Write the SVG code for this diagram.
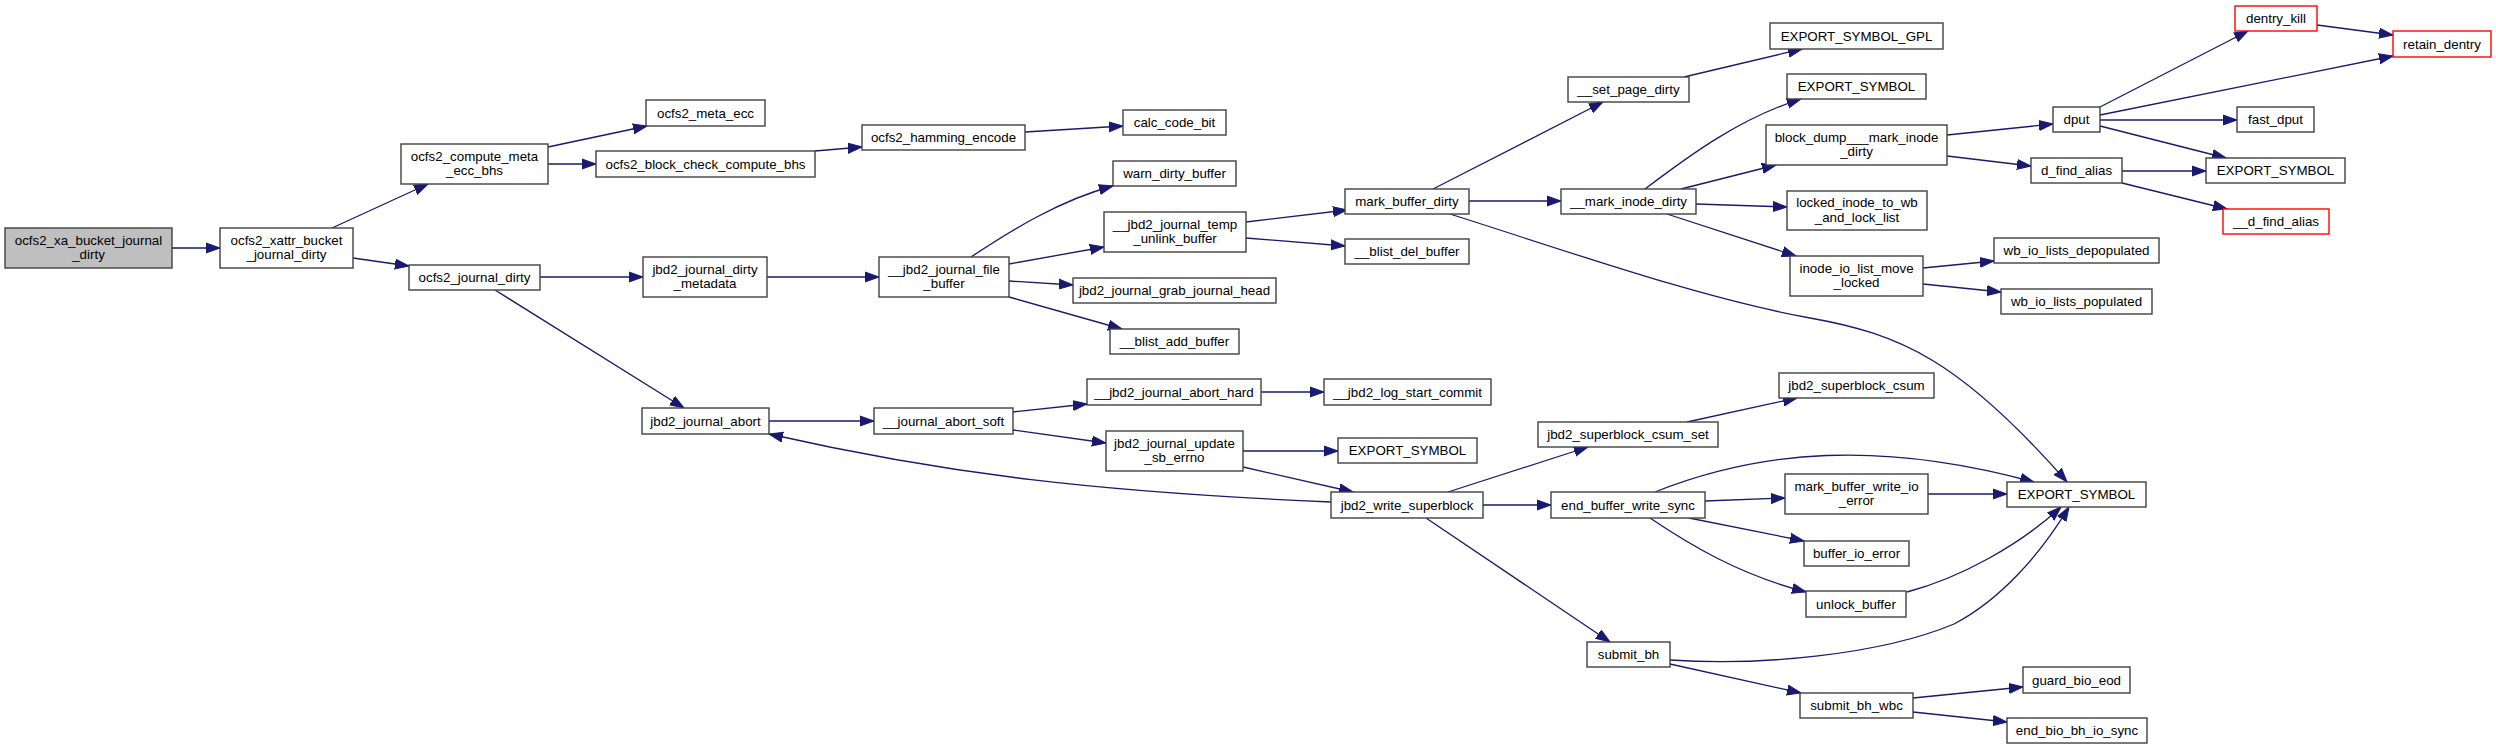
<svg xmlns="http://www.w3.org/2000/svg" width="2496" height="749" viewBox="0 0 2496 749">
<style>
.n rect{fill:#ffffff;stroke:#404040;stroke-width:1.4}
.root rect{fill:#bfbfbf;stroke:#404040;stroke-width:1.4}
.red rect{fill:#ffffff;stroke:#ff0000;stroke-width:1.4}
text{font-family:"Liberation Sans",Arial,Helvetica,sans-serif;font-size:13.33px;fill:#000000;text-anchor:middle}
#edges path{fill:none;stroke:#191970;stroke-width:1.3;marker-end:url(#ah)}
</style>
<defs>
<marker id="ah" markerUnits="userSpaceOnUse" markerWidth="16" markerHeight="12" viewBox="0 -6 16 12" refX="14" refY="0" orient="auto">
<path d="M0,-5 L14,0 L0,5 z" fill="#191970" stroke="#191970" stroke-width="1"/>
</marker>
</defs>
<rect width="2496" height="749" fill="#ffffff"/>
<g id="edges">
<path d="M172,248 L220,248"/>
<path d="M332,228 L428,184"/>
<path d="M353,258 L409,266"/>
<path d="M548,147 L647,126"/>
<path d="M548,164 L596,164"/>
<path d="M540,277 L643,277"/>
<path d="M495,290 L684,408"/>
<path d="M815,151 L862,147"/>
<path d="M767,277 L879,277"/>
<path d="M769,421 L874,421"/>
<path d="M1025,132 L1123,126"/>
<path d="M971,257 C1010,231 1060,200 1113,186"/>
<path d="M1009,264 L1104,247"/>
<path d="M1009,281 L1073,285"/>
<path d="M1009,297 L1122,329"/>
<path d="M1013,412 L1087,404"/>
<path d="M1013,430 L1106,443"/>
<path d="M1246,222 L1347,210"/>
<path d="M1246,238 L1345,246"/>
<path d="M1261,392 L1324,392"/>
<path d="M1243,451 L1338,451"/>
<path d="M1243,467 L1353,492"/>
<path d="M1331,502 C1100,492 950,475 769,434"/>
<path d="M1433,189 L1603,102"/>
<path d="M1469,201 L1561,201"/>
<path d="M1450,214 C1570,252 1700,298 1810,318 C1900,334 1960,360 2067,482"/>
<path d="M1645,189 C1690,155 1740,118 1801,99"/>
<path d="M1684,77 L1802,49"/>
<path d="M1681,189 L1776,165"/>
<path d="M1696,204 L1787,207"/>
<path d="M1667,214 L1796,256"/>
<path d="M1947,135 L2053,124"/>
<path d="M1947,156 L2031,166"/>
<path d="M1923,268 L1994,261"/>
<path d="M1923,284 L2001,292"/>
<path d="M1448,492 L1588,447"/>
<path d="M1483,505 L1551,505"/>
<path d="M1426,518 L1610,642"/>
<path d="M1687,422 L1797,398"/>
<path d="M1655,492 C1760,450 1880,440 2034,482"/>
<path d="M1705,501 L1785,498"/>
<path d="M1928,494 L2007,494"/>
<path d="M1689,518 L1804,541"/>
<path d="M1650,518 C1690,545 1740,575 1806,592"/>
<path d="M1907,592 C1960,578 2020,545 2061,507"/>
<path d="M1670,660 C1760,666 1880,655 1954,624 C2000,600 2040,555 2069,507"/>
<path d="M1670,664 L1801,693"/>
<path d="M1913,698 L2023,687"/>
<path d="M1913,712 L2007,722"/>
<path d="M2100,107 L2248,31"/>
<path d="M2100,115 L2393,56"/>
<path d="M2317,25 L2393,35"/>
<path d="M2100,120 L2237,120"/>
<path d="M2100,126 L2226,158"/>
<path d="M2122,171 L2206,171"/>
<path d="M2122,183 L2227,209"/>
</g>
<g id="n0" class="root"><rect x="5" y="228" width="167" height="40"/><text x="88.5" y="244.5">ocfs2_xa_bucket_journal</text><text x="88.5" y="259">_dirty</text></g>
<g id="n1" class="n"><rect x="220" y="228" width="133" height="40"/><text x="286.5" y="244.5">ocfs2_xattr_bucket</text><text x="286.5" y="259">_journal_dirty</text></g>
<g id="n2" class="n"><rect x="401" y="144" width="147" height="40"/><text x="474.5" y="160.5">ocfs2_compute_meta</text><text x="474.5" y="175">_ecc_bhs</text></g>
<g id="n3" class="n"><rect x="409" y="265" width="131" height="25"/><text x="474.5" y="282">ocfs2_journal_dirty</text></g>
<g id="n4" class="n"><rect x="646" y="100" width="119" height="26"/><text x="705.5" y="117.5">ocfs2_meta_ecc</text></g>
<g id="n5" class="n"><rect x="596" y="151" width="219" height="26"/><text x="705.5" y="168.5">ocfs2_block_check_compute_bhs</text></g>
<g id="n6" class="n"><rect x="643" y="257" width="124" height="40"/><text x="705" y="273.5">jbd2_journal_dirty</text><text x="705" y="288">_metadata</text></g>
<g id="n7" class="n"><rect x="642" y="408" width="127" height="26"/><text x="705.5" y="425.5">jbd2_journal_abort</text></g>
<g id="n8" class="n"><rect x="862" y="125" width="163" height="25"/><text x="943.5" y="142">ocfs2_hamming_encode</text></g>
<g id="n9" class="n"><rect x="1123" y="110" width="103" height="25"/><text x="1174.5" y="127">calc_code_bit</text></g>
<g id="n10" class="n"><rect x="879" y="257" width="130" height="40"/><text x="944" y="273.5">__jbd2_journal_file</text><text x="944" y="288">_buffer</text></g>
<g id="n11" class="n"><rect x="874" y="408" width="139" height="26"/><text x="943.5" y="425.5">__journal_abort_soft</text></g>
<g id="n12" class="n"><rect x="1113" y="161" width="123" height="25"/><text x="1174.5" y="178">warn_dirty_buffer</text></g>
<g id="n13" class="n"><rect x="1104" y="212" width="142" height="40"/><text x="1175" y="228.5">__jbd2_journal_temp</text><text x="1175" y="243">_unlink_buffer</text></g>
<g id="n14" class="n"><rect x="1073" y="278" width="203" height="25"/><text x="1174.5" y="295">jbd2_journal_grab_journal_head</text></g>
<g id="n15" class="n"><rect x="1110" y="329" width="129" height="25"/><text x="1174.5" y="346">__blist_add_buffer</text></g>
<g id="n16" class="n"><rect x="1087" y="379" width="174" height="26"/><text x="1174" y="396.5">__jbd2_journal_abort_hard</text></g>
<g id="n17" class="n"><rect x="1106" y="431" width="137" height="40"/><text x="1174.5" y="447.5">jbd2_journal_update</text><text x="1174.5" y="462">_sb_errno</text></g>
<g id="n18" class="n"><rect x="1345" y="189" width="124" height="25"/><text x="1407" y="206">mark_buffer_dirty</text></g>
<g id="n19" class="n"><rect x="1345" y="239" width="124" height="25"/><text x="1407" y="256">__blist_del_buffer</text></g>
<g id="n20" class="n"><rect x="1324" y="379" width="167" height="26"/><text x="1407.5" y="396.5">__jbd2_log_start_commit</text></g>
<g id="n21" class="n"><rect x="1338" y="438" width="139" height="25"/><text x="1407.5" y="455">EXPORT_SYMBOL</text></g>
<g id="n22" class="n"><rect x="1331" y="492" width="152" height="26"/><text x="1407" y="509.5">jbd2_write_superblock</text></g>
<g id="n23" class="n"><rect x="1568" y="77" width="121" height="25"/><text x="1628.5" y="94">__set_page_dirty</text></g>
<g id="n24" class="n"><rect x="1561" y="189" width="135" height="25"/><text x="1628.5" y="206">__mark_inode_dirty</text></g>
<g id="n25" class="n"><rect x="1538" y="422" width="180" height="25"/><text x="1628" y="439">jbd2_superblock_csum_set</text></g>
<g id="n26" class="n"><rect x="1551" y="492" width="154" height="26"/><text x="1628" y="509.5">end_buffer_write_sync</text></g>
<g id="n27" class="n"><rect x="1587" y="642" width="83" height="25"/><text x="1628.5" y="659">submit_bh</text></g>
<g id="n28" class="n"><rect x="1770" y="23" width="173" height="26"/><text x="1856.5" y="40.5">EXPORT_SYMBOL_GPL</text></g>
<g id="n29" class="n"><rect x="1787" y="74" width="139" height="25"/><text x="1856.5" y="91">EXPORT_SYMBOL</text></g>
<g id="n30" class="n"><rect x="1766" y="125" width="181" height="40"/><text x="1856.5" y="141.5">block_dump___mark_inode</text><text x="1856.5" y="156">_dirty</text></g>
<g id="n31" class="n"><rect x="1787" y="191" width="140" height="39"/><text x="1857" y="207">locked_inode_to_wb</text><text x="1857" y="221.5">_and_lock_list</text></g>
<g id="n32" class="n"><rect x="1790" y="256" width="133" height="40"/><text x="1856.5" y="272.5">inode_io_list_move</text><text x="1856.5" y="287">_locked</text></g>
<g id="n33" class="n"><rect x="1779" y="373" width="155" height="25"/><text x="1856.5" y="390">jbd2_superblock_csum</text></g>
<g id="n34" class="n"><rect x="1785" y="474" width="143" height="40"/><text x="1856.5" y="490.5">mark_buffer_write_io</text><text x="1856.5" y="505">_error</text></g>
<g id="n35" class="n"><rect x="1804" y="541" width="105" height="25"/><text x="1856.5" y="558">buffer_io_error</text></g>
<g id="n36" class="n"><rect x="1806" y="591" width="100" height="26"/><text x="1856" y="608.5">unlock_buffer</text></g>
<g id="n37" class="n"><rect x="1800" y="693" width="113" height="25"/><text x="1856.5" y="710">submit_bh_wbc</text></g>
<g id="n38" class="n"><rect x="2053" y="107" width="47" height="25"/><text x="2076.5" y="124">dput</text></g>
<g id="n39" class="n"><rect x="2031" y="158" width="91" height="25"/><text x="2076.5" y="175">d_find_alias</text></g>
<g id="n40" class="n"><rect x="1994" y="238" width="165" height="25"/><text x="2076.5" y="255">wb_io_lists_depopulated</text></g>
<g id="n41" class="n"><rect x="2001" y="289" width="151" height="25"/><text x="2076.5" y="306">wb_io_lists_populated</text></g>
<g id="n42" class="n"><rect x="2007" y="482" width="139" height="25"/><text x="2076.5" y="499">EXPORT_SYMBOL</text></g>
<g id="n43" class="n"><rect x="2023" y="667" width="107" height="26"/><text x="2076.5" y="684.5">guard_bio_eod</text></g>
<g id="n44" class="n"><rect x="2007" y="718" width="140" height="25"/><text x="2077" y="735">end_bio_bh_io_sync</text></g>
<g id="n45" class="red"><rect x="2235" y="6" width="82" height="25"/><text x="2276" y="23">dentry_kill</text></g>
<g id="n46" class="red"><rect x="2393" y="31" width="98" height="26"/><text x="2442" y="48.5">retain_dentry</text></g>
<g id="n47" class="n"><rect x="2237" y="107" width="77" height="25"/><text x="2275.5" y="124">fast_dput</text></g>
<g id="n48" class="n"><rect x="2206" y="158" width="139" height="25"/><text x="2275.5" y="175">EXPORT_SYMBOL</text></g>
<g id="n49" class="red"><rect x="2223" y="209" width="106" height="25"/><text x="2276" y="226">__d_find_alias</text></g>
</svg>
